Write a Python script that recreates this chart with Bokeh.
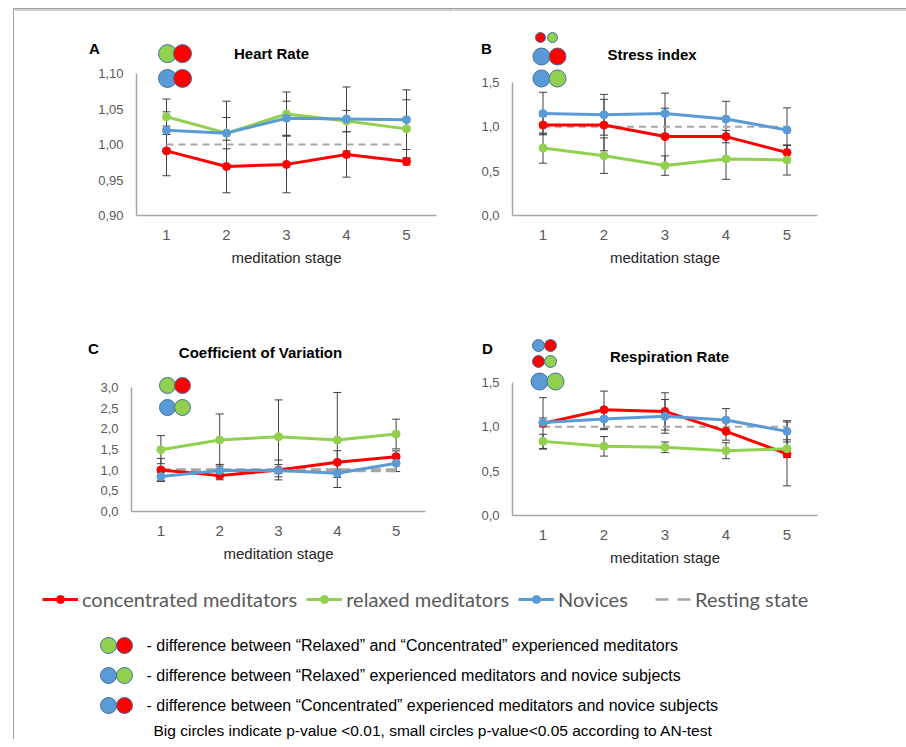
from bokeh.plotting import figure
from bokeh.models import (ColumnDataSource, Whisker, TeeHead, Range1d, FixedTicker, Span,
                          Legend, LegendItem, CustomJSTickFormatter)
from bokeh.layouts import column, row
from bokeh.embed import file_html
from bokeh.resources import INLINE
from bokeh.core.properties import value

# ---------------- data ----------------
stages = [1, 2, 3, 4, 5]
resting = [1.0, 1.0, 1.0, 1.0, 1.0]

# A: Heart Rate
hr_conc = [0.991, 0.969, 0.972, 0.986, 0.976]
hr_conc_err = [0.035, 0.037, 0.040, 0.032, 0.005]
hr_relax = [1.039, 1.016, 1.043, 1.033, 1.022]
hr_relax_err = [0.025, 0.045, 0.031, 0.015, 0.041]
hr_nov = [1.020, 1.016, 1.037, 1.036, 1.035]
hr_nov_err = [0.026, 0.022, 0.024, 0.045, 0.042]

# B: Stress index
si_conc = [1.02, 1.02, 0.89, 0.89, 0.71]
si_conc_err = [0.10, 0.29, 0.32, 0.07, 0.08]
si_relax = [0.76, 0.675, 0.563, 0.638, 0.626]
si_relax_err = [0.17, 0.20, 0.11, 0.23, 0.17]
si_nov = [1.15, 1.136, 1.15, 1.088, 0.964]
si_nov_err = [0.24, 0.23, 0.23, 0.20, 0.25]

# C: Coefficient of Variation
cv_conc = [1.005, 0.868, 1.005, 1.19, 1.327]
cv_conc_err = [0.28, 0.10, 0.24, 0.28, 0.14]
cv_relax = [1.496, 1.73, 1.81, 1.73, 1.874]
cv_relax_err = [0.34, 0.63, 0.89, 1.15, 0.36]
cv_nov = [0.844, 0.989, 0.989, 0.924, 1.166]
cv_nov_err = [0.10, 0.15, 0.15, 0.10, 0.20]

# D: Respiration Rate
rr_conc = [1.039, 1.193, 1.174, 0.949, 0.694]
rr_conc_err = [0.29, 0.21, 0.21, 0.10, 0.36]
rr_relax = [0.836, 0.78, 0.769, 0.731, 0.754]
rr_relax_err = [0.08, 0.11, 0.06, 0.09, 0.10]
rr_nov = [1.05, 1.088, 1.118, 1.076, 0.949]
rr_nov_err = [0.05, 0.12, 0.19, 0.13, 0.12]

series_names = ["concentrated meditators", "relaxed meditators", "Novices", "Resting state"]
panel_titles = ["Heart Rate", "Stress index", "Coefficient of Variation", "Respiration Rate"]
panel_letters = ["A", "B", "C", "D"]
x_label = "meditation stage"

note_texts = [
    "- difference between \u201cRelaxed\u201d and \u201cConcentrated\u201d experienced meditators",
    "- difference between \u201cRelaxed\u201d experienced meditators and novice subjects",
    "- difference between \u201cConcentrated\u201d experienced meditators and novice subjects",
]
footnote = "Big circles indicate p-value <0.01, small circles p-value<0.05 according to AN-test"

# ---------------- styles ----------------
RED = "#FF0000"
GREEN = "#92D050"
BLUE = "#5B9BD5"
REST = "#A6A6A6"
ERR = "#404040"
OUTLINE = "#41719C"
AXIS = "#A6A6A6"
TICKTXT = "#595959"
FRAME = "#A0A0A0"
FONT = "Liberation Sans"

note_left = [GREEN, BLUE, BLUE]
note_right = [RED, GREEN, RED]

# significance markers per panel (panel data units) and pixel sizes
sig_A = dict(x=[1.017, 1.267, 1.017, 1.267], y=[1.128, 1.128, 1.093, 1.093],
             c=[GREEN, RED, BLUE, RED], s=[18, 18, 18, 18])
sig_B = dict(x=[0.959, 1.156, 0.975, 1.238, 0.975, 1.238], y=[2.007, 2.007, 1.793, 1.793, 1.545, 1.545],
             c=[RED, GREEN, BLUE, RED, BLUE, GREEN], s=[10, 10, 17, 17, 17, 17])
sig_C = dict(x=[1.112, 1.367, 1.112, 1.367], y=[3.049, 3.049, 2.516, 2.516],
             c=[GREEN, RED, BLUE, GREEN], s=[16, 16, 16, 16])
sig_D = dict(x=[0.926, 1.123, 0.926, 1.123, 0.943, 1.205], y=[1.917, 1.917, 1.737, 1.737, 1.511, 1.511],
             c=[BLUE, RED, RED, GREEN, BLUE, GREEN], s=[12, 12, 12, 12, 17, 17])


def make_panel(box, axes_box, data, sig, title, letter, title_pos, letter_pos, y0, ytop, ticks, digits,
               rest_width=2, rest_dash="7 5", top_edge=False):
    # box: figure rectangle on the page (x0, x1, y0, y1)
    # axes_box: page px of the y-axis line, width of the 5-stage band, px of y0 and of ytop
    fx0, fx1, fy0, fy1 = box
    ax_px, band_w, bot_px, top_px = axes_box
    kx = band_w / 5.0
    ky = (bot_px - top_px) / (ytop - y0)
    xr = Range1d(0.5 - (ax_px - fx0) / kx, 0.5 + (fx1 - ax_px) / kx)
    yr = Range1d(y0 - (fy1 - bot_px) / ky, y0 + (bot_px - fy0) / ky)
    p = figure(frame_width=fx1 - fx0, frame_height=fy1 - fy0, min_border=0,
               x_range=xr, y_range=yr, output_backend="svg", toolbar_location=None)
    p.outline_line_color = None
    p.xgrid.visible = False
    p.ygrid.visible = False
    p.background_fill_color = "white"
    p.border_fill_color = None

    if top_edge:
        p.add_layout(Span(location=yr.end, dimension="width", line_color=FRAME, line_width=2))

    xa = p.xaxis[0]
    xa.fixed_location = y0
    xa.ticker = FixedTicker(ticks=stages)
    xa.bounds = (0.5, 5.5)
    xa.axis_line_color = AXIS
    xa.axis_line_width = 1.5
    xa.major_tick_line_color = None
    xa.minor_tick_line_color = None
    xa.major_label_standoff = 8
    xa.major_label_text_font = FONT
    xa.major_label_text_font_size = "15px"
    xa.major_label_text_color = TICKTXT
    xa.axis_label = x_label
    xa.axis_label_text_font = FONT
    xa.axis_label_text_font_size = "15px"
    xa.axis_label_text_font_style = "normal"
    xa.axis_label_text_color = "#262626"
    xa.axis_label_standoff = 6

    ya = p.yaxis[0]
    ya.fixed_location = 0.5
    ya.ticker = FixedTicker(ticks=ticks)
    ya.bounds = (y0, ytop)
    ya.axis_line_color = AXIS
    ya.axis_line_width = 1.5
    ya.major_tick_line_color = None
    ya.minor_tick_line_color = None
    ya.major_label_standoff = 7
    ya.major_label_text_font = FONT
    ya.major_label_text_font_size = "13px"
    ya.major_label_text_color = TICKTXT
    ya.formatter = CustomJSTickFormatter(code="return tick.toFixed(%d).replace('.', ',');" % digits)

    p.line(stages, resting, line_color=REST, line_width=rest_width, line_dash=rest_dash)

    for vals, errs, col in data:
        src = ColumnDataSource(dict(x=stages, y=vals,
                                    upper=[v + e for v, e in zip(vals, errs)],
                                    lower=[v - e for v, e in zip(vals, errs)]))
        w = Whisker(source=src, base="x", upper="upper", lower="lower",
                    line_color=ERR, line_width=1,
                    upper_head=TeeHead(size=8, line_color=ERR, line_width=1),
                    lower_head=TeeHead(size=8, line_color=ERR, line_width=1))
        p.add_layout(w)
        p.line("x", "y", source=src, line_color=col, line_width=3)
        p.scatter("x", "y", source=src, size=8, fill_color=col, line_color=col)

    p.scatter(sig["x"], sig["y"], size=sig["s"], fill_color=sig["c"], line_color=OUTLINE, line_width=1)

    p.text([title_pos[0]], [title_pos[1]], text=[title], text_font=value(FONT), text_font_size="15px",
           text_font_style="bold", text_align="center", text_baseline="middle", text_color="black")
    p.text([letter_pos[0]], [letter_pos[1]], text=[letter], text_font=value(FONT), text_font_size="15px",
           text_font_style="bold", text_align="center", text_baseline="middle", text_color="black")
    return p


pA = make_panel((14, 453, 9, 298), (136, 300, 215, 73),
                [(hr_conc, hr_conc_err, RED), (hr_relax, hr_relax_err, GREEN), (hr_nov, hr_nov_err, BLUE)],
                sig_A, panel_titles[0], panel_letters[0], (2.75, 1.128), (-0.2, 1.135),
                0.90, 1.10, [0.90, 0.95, 1.00, 1.05, 1.10], 2, top_edge=True)
pB = make_panel((453, 906, 9, 298), (512, 305, 215, 82),
                [(si_conc, si_conc_err, RED), (si_relax, si_relax_err, GREEN), (si_nov, si_nov_err, BLUE)],
                sig_B, panel_titles[1], panel_letters[1], (2.787, 1.816), (0.074, 1.883),
                0.0, 1.5, [0.0, 0.5, 1.0, 1.5], 1, top_edge=True)
pC = make_panel((14, 453, 298, 578), (131, 294, 511, 387),
                [(cv_conc, cv_conc_err, RED), (cv_relax, cv_relax_err, GREEN), (cv_nov, cv_nov_err, BLUE)],
                sig_C, panel_titles[2], panel_letters[2], (2.694, 3.847), (-0.146, 3.944),
                0.0, 3.0, [0.0, 0.5, 1.0, 1.5, 2.0, 2.5, 3.0], 1, rest_width=4, rest_dash="10 5")
pD = make_panel((453, 906, 298, 578), (512, 305, 515, 382),
                [(rr_conc, rr_conc_err, RED), (rr_relax, rr_relax_err, GREEN), (rr_nov, rr_nov_err, BLUE)],
                sig_D, panel_titles[3], panel_letters[3], (3.074, 1.793), (0.090, 1.883),
                0.0, 1.5, [0.0, 0.5, 1.0, 1.5], 1)

# ---------------- bottom legend / notes ----------------
OX = 14
lf = figure(frame_width=892, frame_height=161, min_border=0,
            x_range=Range1d(OX, 906), y_range=Range1d(739, 578),
            x_axis_type=None, y_axis_type=None, output_backend="svg", toolbar_location=None)
lf.outline_line_color = None
lf.xgrid.visible = False
lf.ygrid.visible = False
lf.border_fill_color = None

# legend proxies (a single point placed outside the visible range)
l1 = lf.line(x=[0], y=[0], line_color=RED, line_width=3)
s1 = lf.scatter(x=[0], y=[0], size=6, fill_color=RED, line_color=RED)
l2 = lf.line(x=[0], y=[0], line_color=GREEN, line_width=3)
s2 = lf.scatter(x=[0], y=[0], size=6, fill_color=GREEN, line_color=GREEN)
l3 = lf.line(x=[0], y=[0], line_color=BLUE, line_width=3)
s3 = lf.scatter(x=[0], y=[0], size=6, fill_color=BLUE, line_color=BLUE)
l4 = lf.line(x=[0], y=[0], line_color=REST, line_width=2.5, line_dash="13 9")

leg_style = dict(orientation="horizontal", glyph_width=36, glyph_height=20,
                 label_standoff=4, spacing=9, padding=0, margin=0, border_line_color=None,
                 background_fill_alpha=0, label_text_font="Lato", label_text_font_size="20px",
                 label_text_color=TICKTXT, label_height=20)
legend = Legend(items=[LegendItem(label=series_names[0], renderers=[l1, s1]),
                       LegendItem(label=series_names[1], renderers=[l2, s2]),
                       LegendItem(label=series_names[2], renderers=[l3, s3])],
                location=(28, 128), **leg_style)
legend2 = Legend(items=[LegendItem(label=series_names[3], renderers=[l4])],
                 location=(641, 128), **leg_style)
lf.add_layout(legend)
lf.add_layout(legend2)

note_y = [645, 675, 705]
lf.scatter([108] * 3, note_y, size=16, fill_color=note_left, line_color=OUTLINE, line_width=1)
lf.scatter([124] * 3, note_y, size=16, fill_color=note_right, line_color=OUTLINE, line_width=1)
lf.text([146] * 3, note_y, text=note_texts, text_font=value(FONT), text_font_size="16px",
        text_align="left", text_baseline="middle", text_color="black")
lf.text([153], [730], text=[footnote], text_font=value(FONT), text_font_size="15.5px",
        text_align="left", text_baseline="middle", text_color="black")

layout = column(row(pA, pB), row(pC, pD), lf, margin=(8, 0, 0, 13),
                styles={"border-left": "1px solid " + FRAME, "border-top": "1px solid " + FRAME})

open("out.html", "w").write(file_html(layout, INLINE))
